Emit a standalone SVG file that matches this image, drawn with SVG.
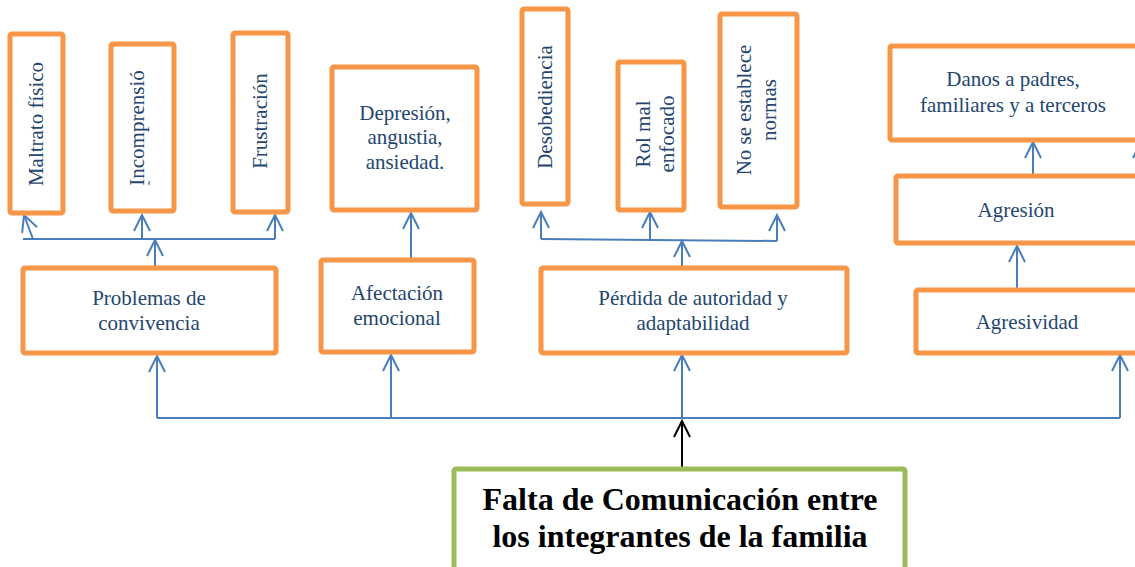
<svg xmlns="http://www.w3.org/2000/svg" width="1135" height="567" viewBox="0 0 1135 567">
<defs>
<style>
.box{fill:#fff;stroke:#F79646;stroke-width:5;}
.main{fill:#fff;stroke:#9BBB59;stroke-width:5;}
.t{font-family:"Liberation Serif","Times New Roman",serif;font-size:21px;fill:#24466F;text-anchor:middle;}
.tb{font-family:"Liberation Serif","Times New Roman",serif;font-size:32px;font-weight:bold;fill:#000;text-anchor:middle;}
.c{fill:none;stroke:#4A7EBB;stroke-width:2;}
.k{fill:none;stroke:#000;stroke-width:2;}
</style>
<marker id="ah" markerUnits="userSpaceOnUse" markerWidth="20" markerHeight="20" viewBox="-18 -10 20 20" refX="0" refY="0" orient="auto">
<path d="M-16,-8 L0,0 L-16,8" fill="none" stroke="#4A7EBB" stroke-width="2"/>
</marker>
<marker id="ahk" markerUnits="userSpaceOnUse" markerWidth="20" markerHeight="20" viewBox="-18 -10 20 20" refX="0" refY="0" orient="auto">
<path d="M-16,-8 L0,0 L-16,8" fill="none" stroke="#000" stroke-width="2"/>
</marker>
</defs>
<rect width="1135" height="567" fill="#fff"/>

<g id="connectors">
<!-- main bus -->
<path class="c" d="M157,418 L1120,418"/>
<path class="c" d="M157,418 L157,356" marker-end="url(#ah)"/>
<path class="c" d="M391,418 L391,355" marker-end="url(#ah)"/>
<path class="c" d="M682,418 L682,355" marker-end="url(#ah)"/>
<path class="c" d="M1120,418 L1120,355" marker-end="url(#ah)"/>
<path class="k" d="M682,468 L682,421" marker-end="url(#ahk)"/>
<!-- group 1 -->
<path class="c" d="M155,267 L155,240" marker-end="url(#ah)"/>
<path class="c" d="M23,239 L275,239"/>
<path class="c" d="M33,239 L24,215" marker-end="url(#ah)"/>
<path class="c" d="M142,239 L142,215" marker-end="url(#ah)"/>
<path class="c" d="M275,239 L275,215" marker-end="url(#ah)"/>
<!-- group 2 -->
<path class="c" d="M411,259 L411,213" marker-end="url(#ah)"/>
<!-- group 3 -->
<path class="c" d="M682,267 L682,241" marker-end="url(#ah)"/>
<path class="c" d="M541,239 L777,241"/>
<path class="c" d="M541,239 L541,212" marker-end="url(#ah)"/>
<path class="c" d="M650,240 L650,212" marker-end="url(#ah)"/>
<path class="c" d="M777,241 L777,215" marker-end="url(#ah)"/>
<!-- group 4 -->
<path class="c" d="M1017,302 L1017,246" marker-end="url(#ah)"/>
<path class="c" d="M1033,175 L1033,142" marker-end="url(#ah)"/>
<path class="c" d="M1141,175 L1141,142" marker-end="url(#ah)"/>
</g>

<g id="n-maltrato"><rect class="box" x="10" y="34" width="53" height="179" rx="2"/><text class="t" transform="translate(43,124) rotate(-90)">Maltrato físico</text></g>
<g id="n-incomprension"><rect class="box" x="111" y="44" width="63" height="167" rx="2"/><text class="t" transform="translate(144,128) rotate(-90)">Incomprensió</text><text class="t" style="font-size:14px" transform="translate(158,183) rotate(-90)">˜</text></g>
<g id="n-frustracion"><rect class="box" x="233" y="33" width="55" height="179" rx="2"/><text class="t" transform="translate(267,121) rotate(-90)">Frustración</text></g>
<g id="n-problemas"><rect class="box" x="23" y="268" width="253" height="85" rx="2"/><text class="t" x="149" y="305">Problemas de</text><text class="t" x="149" y="330">convivencia</text></g>

<g id="n-depresion"><rect class="box" x="332" y="67" width="145" height="143" rx="2"/><text class="t" x="405" y="120">Depresión,</text><text class="t" x="405" y="144">angustia,</text><text class="t" x="405" y="169">ansiedad.</text></g>
<g id="n-afectacion"><rect class="box" x="321" y="260" width="153" height="92" rx="2"/><text class="t" x="397" y="300">Afectación</text><text class="t" x="397" y="325">emocional</text></g>

<g id="n-desobediencia"><rect class="box" x="522" y="9" width="46" height="195" rx="2"/><text class="t" transform="translate(552,107) rotate(-90)">Desobediencia</text></g>
<g id="n-rol"><rect class="box" x="618" y="62" width="66" height="148" rx="2"/><text class="t" transform="translate(650,134) rotate(-90)">Rol mal</text><text class="t" transform="translate(674,134) rotate(-90)">enfocado</text></g>
<g id="n-normas"><rect class="box" x="720" y="14" width="77" height="193" rx="2"/><text class="t" transform="translate(751,110) rotate(-90)">No se establece</text><text class="t" transform="translate(776,110) rotate(-90)">normas</text></g>
<g id="n-perdida"><rect class="box" x="541" y="268" width="306" height="85" rx="2"/><text class="t" x="693" y="305">Pérdida de autoridad y</text><text class="t" x="693" y="330">adaptabilidad</text></g>

<g id="n-danos"><rect class="box" x="890" y="46" width="260" height="94" rx="2"/><text class="t" x="1013" y="86">Danos a padres,</text><text class="t" x="1013" y="112">familiares y a terceros</text></g>
<g id="n-agresion"><rect class="box" x="896" y="176" width="254" height="67" rx="2"/><text class="t" x="1016" y="217">Agresión</text></g>
<g id="n-agresividad"><rect class="box" x="916" y="290" width="234" height="63" rx="2"/><text class="t" x="1027" y="329">Agresividad</text></g>

<g id="n-falta"><rect class="main" x="454" y="469" width="451" height="110" rx="2"/><text class="tb" x="680" y="510">Falta de Comunicación entre</text><text class="tb" x="680" y="547">los integrantes de la familia</text></g>
</svg>
